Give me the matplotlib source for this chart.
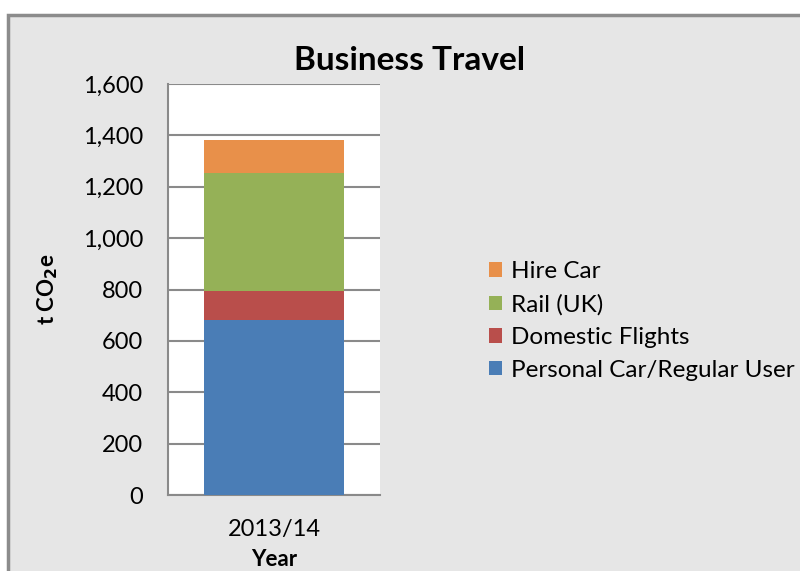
import matplotlib.pyplot as plt
from matplotlib.patches import Rectangle, Patch

# data
years = ["2013/14"]
series_names = ["Personal Car/Regular User", "Domestic Flights", "Rail (UK)", "Hire Car"]
personal_car = [680]
domestic_flights = [115]
rail_uk = [460]
hire_car = [128]
colors = ["#4a7db6", "#b94e4b", "#95b157", "#e8904a"]
yticks = [0, 200, 400, 600, 800, 1000, 1200, 1400, 1600]

plt.rcParams['font.family'] = ['Lato', 'DejaVu Sans']

fig = plt.figure(figsize=(8, 5.71), dpi=100)
fig.patch.set_facecolor("white")

# gray chart panel with a bevel-ish frame
fig.add_artist(Rectangle((8 / 800, -0.02), 1.0, 1 - 15 / 571 + 0.02, transform=fig.transFigure,
                         facecolor="#e6e6e6", edgecolor="#8c8c8c", linewidth=2.5, zorder=0))

ax = fig.add_axes([168 / 800, 1 - 495 / 571, 212 / 800, 411 / 571])
ax.set_facecolor("white")

values = [personal_car, domestic_flights, rail_uk, hire_car]
bottom = [0] * len(years)
x = list(range(len(years)))
for name, vals, c in zip(series_names, values, colors):
    ax.bar(x, vals, width=0.656, bottom=bottom, color=c, label=name, zorder=3)
    bottom = [bt + v for bt, v in zip(bottom, vals)]

ax.set_xlim(-0.5, 0.5)
ax.set_ylim(0, 1600)
ax.set_yticks(yticks)
ax.set_yticklabels([f"{t:,}" for t in yticks], fontsize=17)
ax.set_xticks(x)
ax.set_xticklabels(years, fontsize=17)
ax.tick_params(length=0)
ax.tick_params(axis='y', pad=18)
ax.tick_params(axis='x', pad=17)
ax.grid(axis='y', color="#8a8a8a", linewidth=1.5, zorder=1)
for s in ["top", "right"]:
    ax.spines[s].set_visible(False)
for s in ["left", "bottom"]:
    ax.spines[s].set_color("#8a8a8a")
    ax.spines[s].set_linewidth(1.5)

ax.set_ylabel("t CO$_\\mathbf{2}$e", fontsize=16, fontweight="bold", labelpad=16)
ax.set_xlabel("Year", fontsize=16, fontweight="bold", labelpad=7)
fig.text(410 / 800, 1 - 60 / 571, "Business Travel", fontsize=24, fontweight="bold",
         ha="center", va="center")

handles = [Patch(facecolor=c) for c in colors][::-1]
fig.legend(handles, series_names[::-1], loc="center left", bbox_to_anchor=(467 / 800, 1 - 321 / 571),
           frameon=False, fontsize=17.5, handlelength=0.55, handleheight=0.55, handletextpad=0.35,
           labelspacing=0.48)

fig.savefig("out.png", dpi=100)
